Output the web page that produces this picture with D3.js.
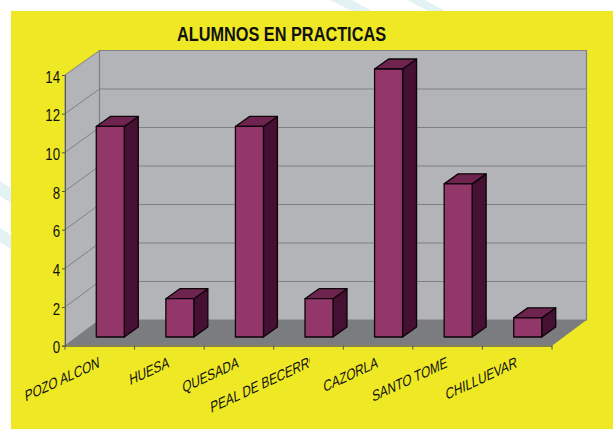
<!DOCTYPE html>
<html>
<head>
<meta charset="utf-8">
<script src="https://cdn.jsdelivr.net/npm/d3@7"></script>
<style>
  html, body { margin: 0; padding: 0; background: #fff; overflow: hidden; }
  svg { display: block; }
  text { font-family: "Liberation Sans", Arial, sans-serif; fill: #111; }
</style>
</head>
<body>
<script>
const title = 'ALUMNOS EN PRACTICAS'
const categories = ['POZO ALCON', 'HUESA', 'QUESADA', 'PEAL DE BECERRO', 'CAZORLA', 'SANTO TOME', 'CHILLUEVAR']
const values = [11, 2, 11, 2, 14, 8, 1]
const yTicks = [0, 2, 4, 6, 8, 10, 12, 14]

const width = 613, height = 429

const svg = d3.select('body').append('svg')
    .attr('width', width)
    .attr('height', height)

// faint stripes of the page behind the chart
svg.selectAll('polygon.stripe')
    .data([
        [[0, 181], [11, 188], [11, 203], [0, 196]],
        [[0, 228], [11, 235], [11, 249], [0, 242]],
        [[330, 0], [352, 0], [372, 11], [352, 11]],
        [[407, 0], [425, 0], [445, 11], [428, 11]]
    ])
    .join('polygon')
    .classed('stripe', true)
    .attr('points', d => d.join(' '))
    .attr('fill', '#e3f2f5')

svg.append('rect')
    .attr('x', 11).attr('y', 11)
    .attr('width', width - 11).attr('height', height - 11)
    .attr('fill', '#efe925')

// no narrow font here, so squeeze the text horizontally
svg.append('text')
    .text(title)
    .attr('transform', 'translate(281.5,41) scale(0.815,1)')
    .attr('text-anchor', 'middle')
    .attr('font-size', 20)
    .attr('font-weight', 'bold')

// front edge and back wall of the 3d box
let x = d3.scaleBand().domain(categories).range([65, 552])
let yFront = d3.scaleLinear().domain([0, 14]).range([345.7, 75])
let yBack = d3.scaleLinear().domain([0, 14]).range([320, 50.5])
let yBar = d3.scaleLinear().domain([0, 14]).range([337, 69])
let depth = 34.5

let wallColor = '#b3b4b8', floorColor = '#7b7c80', gridColor = '#808185'

const poly = pts => pts.map(p => p.join(',')).join(' ')

let box = svg.append('g')

box.append('polygon')
    .attr('points', poly([[65, yFront(0)], [65 + depth, yBack(0)], [65 + depth, yBack(14)], [65, yFront(14)]]))
    .attr('fill', wallColor).attr('stroke', gridColor)

box.append('polygon')
    .attr('points', poly([[65 + depth, yBack(14)], [552 + depth, yBack(14)], [552 + depth, yBack(0)], [65 + depth, yBack(0)]]))
    .attr('fill', wallColor).attr('stroke', gridColor).attr('stroke-width', 1.2)

box.append('polygon')
    .attr('points', poly([[65, yFront(0)], [552, yFront(0)], [552 + depth, yBack(0)], [65 + depth, yBack(0)]]))
    .attr('fill', floorColor)

box.selectAll('path.grid')
    .data(yTicks.filter(d => d > 0 && d < 14))
    .join('path')
    .classed('grid', true)
    .attr('d', d => 'M65,' + yFront(d) + 'L' + (65 + depth) + ',' + yBack(d) + 'L' + (552 + depth) + ',' + yBack(d))
    .attr('fill', 'none')
    .attr('stroke', gridColor)

// y axis
let yAxis = svg.append('g')
    .attr('transform', 'translate(65,0)')
    .attr('font-family', null)
    .call(d3.axisLeft(yFront).tickValues(yTicks).tickSize(3))
yAxis.selectAll('path, line').attr('stroke', '#555')
yAxis.selectAll('text')
    .attr('font-size', 17)
    .attr('x', -5 / 0.78)
    .attr('dy', '0.42em')
    .attr('transform', 'scale(0.78,1)')

// x axis
let xAxis = svg.append('g')
    .attr('transform', 'translate(0,' + yFront(0) + ')')
    .attr('font-family', null)
    .call(d3.axisBottom(x).tickSize(0).tickFormat(''))
xAxis.select('path').attr('stroke', '#555')

xAxis.selectAll('line.sep')
    .data(d3.range(categories.length + 1))
    .join('line')
    .classed('sep', true)
    .attr('x1', i => 65 + i * x.step()).attr('x2', i => 65 + i * x.step())
    .attr('y1', 0).attr('y2', 4)
    .attr('stroke', '#555')

// the long label runs past its band and gets cut off, like in the picture
svg.append('clipPath').attr('id', 'longLabelClip')
    .append('rect').attr('x', 11).attr('y', 346).attr('width', 299).attr('height', 83)

const longLabel = 'PEAL DE BECERRO'

svg.selectAll('g.xlabel')
    .data(categories)
    .join('g')
    .classed('xlabel', true)
    .attr('clip-path', d => d === longLabel ? 'url(#longLabelClip)' : null)
    .append('text')
    .text(d => d)
    .attr('text-anchor', 'end')
    .attr('font-size', 14.5)
    .attr('transform', d => {
        let nudge = d === longLabel ? 10 : 0
        return 'translate(' + (x(d) + x.bandwidth() / 2 + nudge) + ',' + (367 - nudge * 0.4) + ') rotate(-25) skewX(-20) scale(0.87,1)'
    })

// bars
let barW = 28, barShift = 10.5, topDx = 14, topDy = 10

let bars = svg.selectAll('g.bar')
    .data(categories.map((c, i) => ({ name: c, value: values[i] })))
    .join('g')
    .classed('bar', true)
    .attr('stroke', '#0c0408')
    .attr('stroke-width', 1.3)
    .attr('stroke-linejoin', 'round')

const barX = d => x(d.name) + x.bandwidth() / 2 + barShift - barW / 2

bars.append('polygon')
    .attr('points', d => poly([[barX(d) + barW, yBar(d.value)], [barX(d) + barW + topDx, yBar(d.value) - topDy], [barX(d) + barW + topDx, yBar(0) - topDy], [barX(d) + barW, yBar(0)]]))
    .attr('fill', '#461032')

bars.append('polygon')
    .attr('points', d => poly([[barX(d), yBar(d.value)], [barX(d) + topDx, yBar(d.value) - topDy], [barX(d) + barW + topDx, yBar(d.value) - topDy], [barX(d) + barW, yBar(d.value)]]))
    .attr('fill', '#6f2450')

bars.append('rect')
    .attr('x', d => barX(d))
    .attr('y', d => yBar(d.value))
    .attr('width', barW)
    .attr('height', d => yBar(0) - yBar(d.value))
    .attr('fill', '#93376b')
</script>
</body>
</html>
